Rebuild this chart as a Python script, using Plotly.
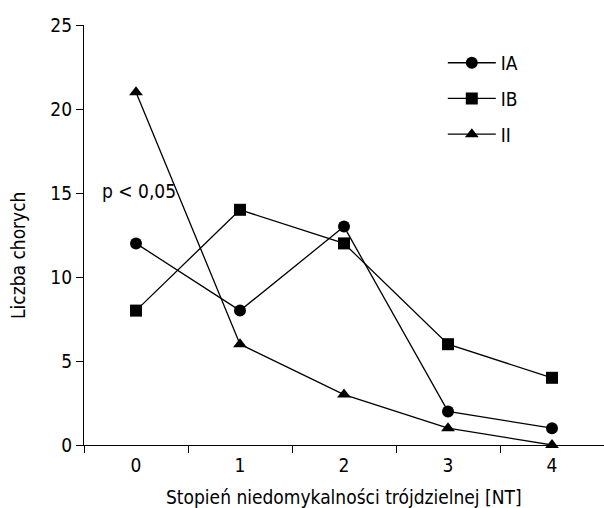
import plotly.graph_objects as go

# Stopień niedomykalności trójdzielnej (NT) vs. liczba chorych w grupach
categories = ["0", "1", "2", "3", "4"]
series_names = ["IA", "IB", "II"]
ia_values = [12, 8, 13, 2, 1]
ib_values = [8, 14, 12, 6, 4]
ii_values = [21, 6, 3, 1, 0]
y_ticks = [0, 5, 10, 15, 20, 25]

FONT = "DejaVu Sans Condensed, Liberation Sans Narrow, sans-serif"
FS = 19

symbols = ["circle", "square", "triangle-up"]
values = [ia_values, ib_values, ii_values]

fig = go.Figure()
for name, vals, sym in zip(series_names, values, symbols):
    fig.add_trace(go.Scatter(
        x=categories, y=vals, name=name, legendgroup=name,
        mode="lines+markers",
        line=dict(color="black", width=1.3),
        marker=dict(symbol=sym, size=12, color="black"),
        cliponaxis=False,
    ))

fig.update_layout(
    width=604, height=508,
    margin=dict(l=84, r=0, t=25, b=63),
    paper_bgcolor="white", plot_bgcolor="white",
    font=dict(family=FONT, size=FS, color="black"),
    showlegend=True,
    legend=dict(
        x=0.69, y=0.955, xanchor="left", yanchor="top",
        bgcolor="rgba(0,0,0,0)", font=dict(size=FS),
        tracegroupgap=8, itemwidth=48,
    ),
    xaxis=dict(
        type="category", range=[-0.5, 4.5],
        tickson="boundaries", ticks="outside",
        ticklen=7, tickwidth=1.3, tickcolor="black",
        ticklabelstandoff=3,
        showline=True, linecolor="black", linewidth=1.3,
        showgrid=False, zeroline=False,
        tickfont=dict(size=FS),
    ),
    yaxis=dict(
        range=[0, 25], tickmode="array", tickvals=y_ticks,
        showline=True, linecolor="black", linewidth=1.3,
        showgrid=False, zeroline=False,
        ticks="outside", ticklen=7, tickwidth=1.3, tickcolor="black",
        tickfont=dict(size=FS),
    ),
)

# axis titles
fig.add_annotation(
    x=0.5, y=0, xref="paper", yref="paper", yshift=-52,
    text="Stopień niedomykalności trójdzielnej [NT]",
    showarrow=False, xanchor="center", yanchor="middle",
    font=dict(size=FS),
)
fig.add_annotation(
    x=0, y=0.45, xref="paper", yref="paper", xshift=-66,
    text="Liczba chorych", textangle=-90,
    showarrow=False, xanchor="center", yanchor="middle",
    font=dict(size=FS),
)

fig.add_annotation(
    x=0, y=15.1, xref="x", yref="y", text="p < 0,05",
    showarrow=False, xanchor="left", yanchor="middle", xshift=-36,
    font=dict(size=FS),
)

fig.write_html("out.html")
